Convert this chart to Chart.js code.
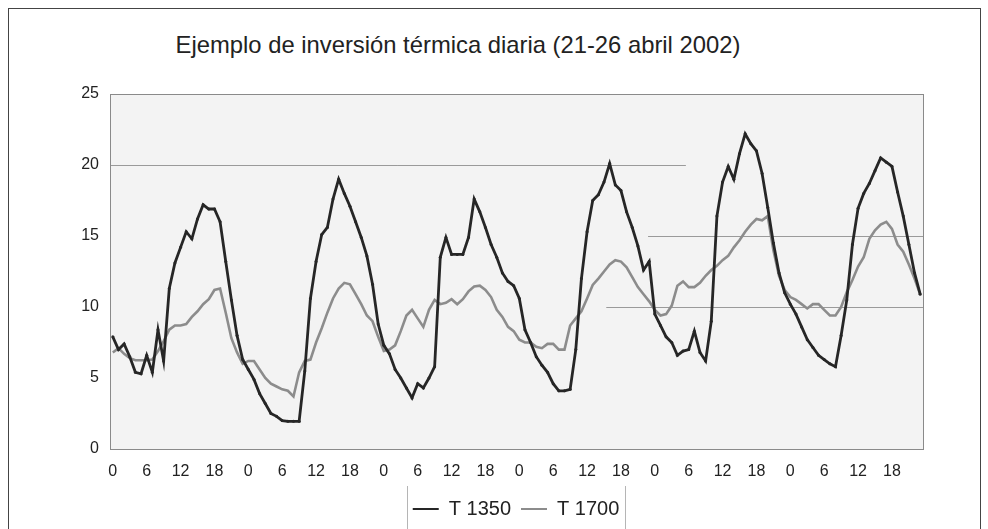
<!DOCTYPE html>
<html>
<head>
<meta charset="utf-8">
<script src="https://cdn.jsdelivr.net/npm/chart.js@4.4.1/dist/chart.umd.min.js"></script>
<style>
  html, body { margin: 0; padding: 0; background: #fff; }
  #wrap { position: relative; width: 988px; height: 529px; overflow: hidden; }
  #marco { position: absolute; left: 8px; top: 8px; width: 971px; height: 560px; border: 1px solid #444; }
  #titulo { position: absolute; left: 0; top: 31px; width: 916px; text-align: center;
            font: 23.8px "Liberation Sans", Arial, sans-serif; color: #222; }
  #grafico { position: absolute; left: 0; top: 0; }
</style>
</head>
<body>
<div id="wrap">
  <div id="marco"></div>
  <div id="titulo">Ejemplo de inversión térmica diaria (21-26 abril 2002)</div>
  <canvas id="grafico" width="988" height="529"></canvas>
</div>
<script>
// horas del día (21 al 26 de abril), una etiqueta por hora
const horasDia = [0,1,2,3,4,5,6,7,8,9,10,11,12,13,14,15,16,17,18,19,20,21,22,23];
const dias = ['21', '22', '23', '24', '25', '26'];
const horas = [];
dias.forEach(() => horasDia.forEach(h => horas.push(h)));

// T 1350 (serie oscura)
const t1350 = [
  7.9, 7.0, 7.4, 6.5, 5.4, 5.3, 6.6, 5.4, 8.4, 6.2, 11.3, 13.1, 14.2, 15.3, 14.8, 16.2, 17.2, 16.9, 16.9, 16.0, 13.2, 10.5, 8.0, 6.3,
  5.6, 4.9, 3.9, 3.2, 2.5, 2.3, 2.0, 1.95, 1.95, 1.95, 5.5, 10.6, 13.2, 15.1, 15.6, 17.6, 19.0, 18.0, 17.1, 16.0, 14.9, 13.6, 11.6, 8.8,
  7.3, 6.7, 5.6, 5.0, 4.3, 3.6, 4.6, 4.3, 5.0, 5.8, 13.5, 14.9, 13.7, 13.7, 13.7, 14.9, 17.6, 16.7, 15.6, 14.4, 13.5, 12.4, 11.8, 11.5,
  10.6, 8.4, 7.5, 6.5, 5.9, 5.4, 4.6, 4.1, 4.1, 4.2, 7.0, 12.0, 15.3, 17.5, 17.9, 18.8, 20.1, 18.6, 18.2, 16.7, 15.6, 14.3, 12.6, 13.2, 9.5, 8.7,
  7.9, 7.5, 6.6, 6.9, 7.0, 8.3, 6.8, 6.2, 9.0, 16.4, 18.8, 19.9, 19.0, 20.8, 22.2, 21.5, 21.0, 19.4, 17.0, 14.5, 12.4, 11.0, 10.2, 9.5,
  8.6, 7.7, 7.15, 6.6, 6.3, 6.0, 5.8, 8.0, 10.5, 14.4, 16.95, 18.0, 18.7, 19.6, 20.5, 20.2, 19.9, 18.1, 16.4, 14.4, 12.4, 10.9
];

// T 1700 (serie gris)
const t1700 = [
  6.8, 7.1, 6.7, 6.4, 6.25, 6.25, 6.25, 6.3, 6.9, 7.6, 8.4, 8.7, 8.7, 8.8, 9.3, 9.7, 10.2, 10.55, 11.2, 11.3, 9.6, 7.8, 6.8, 6.0,
  6.2, 6.2, 5.6, 5.0, 4.6, 4.4, 4.2, 4.1, 3.7, 5.4, 6.2, 6.3, 7.5, 8.5, 9.6, 10.6, 11.3, 11.7, 11.6, 10.9, 10.2, 9.4, 9.0, 7.9,
  6.9, 7.0, 7.3, 8.3, 9.4, 9.8, 9.2, 8.6, 9.8, 10.5, 10.2, 10.3, 10.55, 10.2, 10.55, 11.1, 11.45, 11.5, 11.2, 10.7, 9.8, 9.3, 8.6, 8.3,
  7.7, 7.5, 7.5, 7.2, 7.1, 7.4, 7.4, 7.0, 7.0, 8.7, 9.2, 9.7, 10.6, 11.55, 12.0, 12.5, 13.0, 13.3, 13.2, 12.8, 12.1, 11.4, 10.9, 10.4, 9.8, 9.4,
  9.5, 10.1, 11.5, 11.8, 11.4, 11.4, 11.7, 12.2, 12.6, 12.9, 13.3, 13.6, 14.2, 14.7, 15.3, 15.8, 16.2, 16.1, 16.4, 14.0, 12.2, 11.2, 10.7, 10.5,
  10.2, 9.9, 10.2, 10.2, 9.8, 9.4, 9.4, 10.0, 11.05, 11.9, 12.85, 13.5, 14.8, 15.4, 15.8, 16.0, 15.5, 14.4, 13.9, 13.0, 12.0, 10.9
];

const ticksY = [0, 5, 10, 15, 20, 25];

// líneas horizontales sueltas que aparecen en el original (valor, desde hora, hasta hora)
const lineasSueltas = [
  { valor: 20, desde: 0, hasta: 101.5 },
  { valor: 15, desde: 94.8, hasta: null },
  { valor: 10, desde: 87.4, hasta: null }
];

const fondo = {
  id: 'fondo',
  beforeDraw(chart) {
    const { ctx, chartArea: a } = chart;
    ctx.save();
    ctx.fillStyle = '#f3f3f3';
    ctx.fillRect(a.left, a.top, a.right - a.left, a.bottom - a.top);
    ctx.restore();
  },
  beforeDatasetsDraw(chart) {
    const { ctx, chartArea: a, scales } = chart;
    ctx.save();
    ctx.strokeStyle = '#9a9a9a';
    ctx.lineWidth = 1;
    lineasSueltas.forEach(l => {
      const y = Math.round(scales.y.getPixelForValue(l.valor)) + 0.5;
      const x1 = l.desde === 0 ? a.left : scales.x.getPixelForValue(l.desde);
      const x2 = l.hasta === null ? a.right : scales.x.getPixelForValue(l.hasta);
      ctx.beginPath(); ctx.moveTo(x1, y); ctx.lineTo(x2, y); ctx.stroke();
    });
    ctx.strokeStyle = '#8a8a8a';
    ctx.strokeRect(Math.round(a.left) + 0.5, Math.round(a.top) + 0.5,
                   Math.round(a.right - a.left), Math.round(a.bottom - a.top));
    ctx.restore();
  },
  afterDraw(chart) {
    const { ctx } = chart;
    const cajas = chart.legend.legendHitBoxes;
    if (!cajas || !cajas.length) return;
    const izq = cajas[0].left - 6;
    const der = cajas[cajas.length - 1].left + cajas[cajas.length - 1].width + 6;
    ctx.save();
    ctx.strokeStyle = '#b5b5b5';
    ctx.lineWidth = 1;
    [izq, der].forEach(x => {
      ctx.beginPath(); ctx.moveTo(Math.round(x) + 0.5, 486); ctx.lineTo(Math.round(x) + 0.5, 529); ctx.stroke();
    });
    ctx.restore();
  }
};

new Chart(document.getElementById('grafico'), {
  type: 'line',
  data: {
    labels: horas,
    datasets: [
      {
        label: 'T 1350',
        data: t1350,
        borderColor: '#262626',
        backgroundColor: '#262626',
        borderWidth: 2.8,
        pointRadius: 1.5,
        pointBorderWidth: 0,
        tension: 0
      },
      {
        label: 'T 1700',
        data: t1700,
        borderColor: '#8c8c8c',
        backgroundColor: '#8c8c8c',
        borderWidth: 2.6,
        pointRadius: 0,
        tension: 0
      }
    ]
  },
  options: {
    responsive: false,
    animation: false,
    layout: { padding: { left: 60, right: 16, top: 94, bottom: 0 } },
    plugins: {
      legend: {
        position: 'bottom',
        labels: {
          font: { family: '"Liberation Sans", Arial, sans-serif', size: 20 },
          color: '#222',
          usePointStyle: true,
          pointStyleWidth: 26,
          padding: 10,
          generateLabels: (chart) => chart.data.datasets.map((ds, i) => ({
            text: ds.label,
            fillStyle: ds.borderColor,
            strokeStyle: ds.borderColor,
            lineWidth: 2,
            pointStyle: 'line',
            datasetIndex: i,
            hidden: false,
            fontColor: '#222'
          }))
        }
      },
      title: { display: false },
      tooltip: { enabled: false }
    },
    scales: {
      x: {
        type: 'category',
        offset: true,
        grid: { display: false },
        border: { display: false },
        ticks: {
          autoSkip: false,
          maxRotation: 0,
          padding: 5,
          color: '#222',
          font: { family: '"Liberation Sans", Arial, sans-serif', size: 16 },
          callback: function (v, i) { return horas[i] % 6 === 0 ? String(horas[i]) : ''; }
        },
        afterFit: (s) => { s.height = 40; }
      },
      y: {
        min: 0,
        max: 25,
        afterBuildTicks: (s) => { s.ticks = ticksY.map(v => ({ value: v })); },
        grid: { display: false, drawTicks: false },
        border: { display: false },
        ticks: {
          padding: 11,
          color: '#222',
          font: { family: '"Liberation Sans", Arial, sans-serif', size: 16 }
        },
        afterFit: (s) => { s.width = 50; }
      },
      // eje vacío a la derecha, solo para reservar el margen
      yDer: {
        position: 'right',
        min: 0,
        max: 25,
        grid: { display: false },
        border: { display: false },
        ticks: { display: false },
        afterFit: (s) => { s.width = 49; }
      }
    }
  },
  plugins: [fondo]
});
</script>
</body>
</html>
